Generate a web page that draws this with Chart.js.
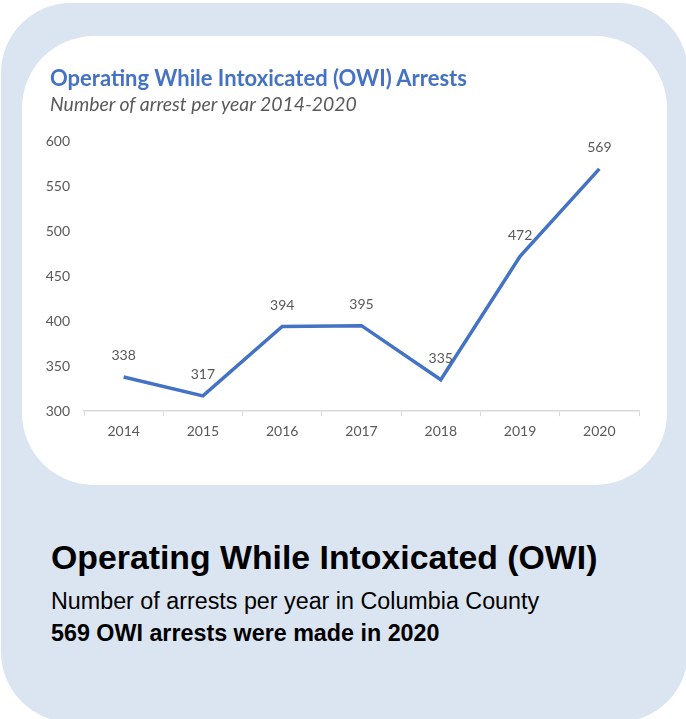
<!DOCTYPE html>
<html>
<head>
<meta charset="utf-8">
<script src="https://cdn.jsdelivr.net/npm/chart.js@4.4.1/dist/chart.umd.min.js"></script>
<style>
  html, body { margin: 0; padding: 0; background: #fff; overflow: hidden; }
  body { width: 686px; height: 719px; position: relative; }
  .card {
    position: absolute; left: 1px; top: 3px; width: 687px; height: 719px;
    background: #dbe5f1; border-radius: 70px;
  }
  .inner {
    position: absolute; left: 22px; top: 36px; width: 645px; height: 449px;
    background: #fff; border-radius: 72px;
  }
  .inner canvas { position: absolute; left: 0; top: 0; }
  .chart-title, .chart-sub {
    position: absolute; left: 50px; margin: 0; line-height: 1; white-space: nowrap;
    font-family: Lato, "Open Sans", sans-serif;
  }
  .chart-title { top: 67px; font-size: 22px; font-weight: bold; color: #4472c4; }
  .chart-sub { top: 94px; font-size: 19.4px; font-style: italic; color: #595959; }
  .txt {
    position: absolute; left: 51px; margin: 0; line-height: 1; color: #000;
    font-family: "Liberation Sans", Arial, sans-serif; white-space: nowrap;
  }
  .head { top: 541px; font-size: 33.8px; font-weight: bold; }
  .sub { top: 590px; font-size: 23.3px; }
  .note { top: 622px; font-size: 23.3px; font-weight: bold; }
</style>
</head>
<body>
<div class="card"></div>
<div class="inner"><canvas id="owiChart" width="645" height="449"></canvas></div>
<p class="chart-title">Operating While Intoxicated (OWI) Arrests</p>
<p class="chart-sub">Number of arrest per year 2014-2020</p>
<p class="txt head">Operating While Intoxicated (OWI)</p>
<p class="txt sub">Number of arrests per year in Columbia County</p>
<p class="txt note">569 OWI arrests were made in 2020</p>

<script>
const years = ['2014', '2015', '2016', '2017', '2018', '2019', '2020'];
const arrests = [338, 317, 394, 395, 335, 472, 569];

const lineBlue = '#4472c4';
const textGray = '#595959';
const tickFont = { family: 'Lato, "Open Sans", sans-serif', size: 14 };

// writes each value just above its point
const valueLabels = {
    id: 'valueLabels',
    afterDatasetsDraw(chart) {
        const ctx = chart.ctx;
        const meta = chart.getDatasetMeta(0);
        ctx.save();
        ctx.font = '14px Lato, "Open Sans", sans-serif';
        ctx.fillStyle = textGray;
        ctx.textAlign = 'center';
        ctx.textBaseline = 'middle';
        meta.data.forEach((pt, i) => {
            ctx.fillText(chart.data.datasets[0].data[i], pt.x, pt.y - 21);
        });
        ctx.restore();
    }
};

const owiChart = new Chart(document.getElementById('owiChart').getContext('2d'), {
    type: 'line',
    data: {
        labels: years,
        datasets: [{
            label: 'OWI arrests',
            data: arrests,
            borderColor: lineBlue,
            borderWidth: 3.5,
            pointRadius: 0,
            tension: 0,
            fill: false
        }]
    },
    options: {
        responsive: false,
        animation: false,
        layout: {
            padding: { left: 10, right: 28, top: 105, bottom: 38 }
        },
        scales: {
            x: {
                offset: true,
                grid: {
                    offset: true,
                    drawOnChartArea: false,
                    drawTicks: true,
                    tickLength: 5,
                    color: '#d9d9d9',
                    lineWidth: 1
                },
                border: { color: '#d9d9d9', width: 1.5 },
                ticks: { color: textGray, padding: 7, font: tickFont }
            },
            y: {
                min: 300,
                max: 600,
                afterFit: (scale) => { scale.width = 52; },
                grid: { display: false, drawTicks: false },
                border: { display: false },
                ticks: { stepSize: 50, color: textGray, padding: 14, font: tickFont }
            }
        },
        plugins: {
            legend: { display: false },
            tooltip: { enabled: false }
        }
    },
    plugins: [valueLabels]
});
</script>
</body>
</html>
